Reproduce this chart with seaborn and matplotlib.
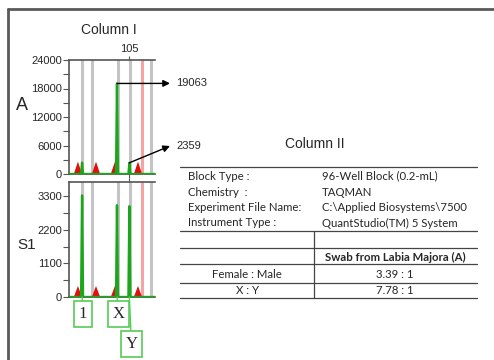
import matplotlib
matplotlib.use("Agg")
import matplotlib.pyplot as plt
import seaborn as sns
import pandas as pd
from matplotlib.lines import Line2D

sns.set_theme(style="white")
plt.rcParams['font.family'] = ['Liberation Sans', 'DejaVu Sans']

# ---------------- data ----------------
panels = ["A", "S1"]
ylims = {"A": 24000, "S1": 3760}
yticks = {"A": [0, 6000, 12000, 18000, 24000], "S1": [0, 1100, 2200, 3300]}
yminor = {"A": [3000, 9000, 15000, 21000], "S1": [550, 1650, 2750, 3850]}

bin_lines = [77.6, 83.4, 98.5, 105.3, 117.7]     # grey bins (bp)
pink_line = 112.4
size_std_pos = [75.2, 85.7, 96.7, 110.1]          # red triangles (bp)
size_std_height = {"A": 2600, "S1": 360}

peak_names = ["1", "X", "Y"]
peak_pos = [77.6, 97.9, 105.1]
peak_heights = {"A": [2400, 19063, 2359], "S1": [3320, 3000, 2970]}

x_tick = [105]
x_range = (70, 120)

table_left = ["Block Type :", "Chemistry  :", "Experiment File Name:", "Instrument Type :"]
table_right = ["96-Well Block (0.2-mL)", "TAQMAN", "C:\\Applied Biosystems\\7500",
               "QuantStudio(TM) 5 System"]
ratio_header = "Swab from Labia Majora (A)"
ratio_labels = ["Female : Male", "X : Y"]
ratio_values = ["3.39 : 1", "7.78 : 1"]

# ---------------- figure ----------------
W, H = 494, 360
fig = plt.figure(figsize=(W / 100, H / 100), dpi=100)
fig.patch.set_facecolor("white")


def fx(px):
    return px / W


def fy(py):
    return 1 - py / H


# outer frame
fig.add_artist(Line2D([fx(8), fx(8)], [fy(9), fy(362)], color="#5a5a5a", lw=2))
fig.add_artist(Line2D([fx(8), fx(496)], [fy(9), fy(9)], color="#5a5a5a", lw=2))

axes_px = {"A": (69, 60, 155, 174), "S1": (69, 182, 155, 297)}
green = "#1aa81a"
axes = {}
for name in panels:
    x0, y0, x1, y1 = axes_px[name]
    ax = fig.add_axes([fx(x0), fy(y1), fx(x1 - x0), (y1 - y0) / H])
    axes[name] = ax
    ax.set_facecolor("white")
    for b in bin_lines:
        ax.axvline(b, color="#c4c4c4", lw=2.2, zorder=1)
    ax.axvline(pink_line, color="#f5a3a3", lw=2.2, zorder=1)
    # red size-standard triangles
    hs = size_std_height[name]
    for p in size_std_pos:
        ax.fill([p - 2.4, p, p + 2.4], [0, hs, 0], color="#e01010", zorder=2, lw=0)
    # green trace
    xs, ys = [x_range[0]], [0]
    for p, h in zip(peak_pos, peak_heights[name]):
        xs += [p - 0.55, p, p + 0.55]
        ys += [0, h, 0]
    xs.append(x_range[1])
    ys.append(0)
    df = pd.DataFrame({"bp": xs, "rfu": ys})
    sns.lineplot(data=df, x="bp", y="rfu", ax=ax, color=green, lw=1.7, sort=False,
                 estimator=None, zorder=3)
    ax.set_xlim(*x_range)
    ax.set_ylim(0, ylims[name])
    ax.set_xlabel("")
    ax.set_ylabel("")
    ax.set_yticks(yticks[name])
    ax.set_yticks([v for v in yminor[name] if v < ylims[name]], minor=True)
    ax.set_yticklabels([str(v) for v in yticks[name]], fontsize=8)
    ax.tick_params(axis="y", which="both", left=True, length=4, width=0.8,
                   color="#555555", pad=1)
    ax.set_xticks(x_tick)
    for s in ["left", "top", "bottom"]:
        ax.spines[s].set_color("#555555")
        ax.spines[s].set_linewidth(1.2)
    ax.spines["right"].set_visible(False)
    ax.spines["bottom"].set_color("#2a6a2a")

axA, axS = axes["A"], axes["S1"]
axA.tick_params(axis="x", top=True, bottom=True, labeltop=True, labelbottom=False,
                length=3, width=0.8, color="#555555", labelsize=8, pad=1)
axS.tick_params(axis="x", top=True, bottom=False, labeltop=False, labelbottom=False,
                length=3, width=0.8, color="#555555")

# panel labels / titles
fig.text(fx(22), fy(105), "A", fontsize=13, ha="center", va="center")
fig.text(fx(27), fy(245), "S1", fontsize=11, ha="center", va="center")
fig.text(fx(109), fy(30), "Column I", fontsize=10, ha="center", va="center")
fig.text(fx(315), fy(144), "Column II", fontsize=10, ha="center", va="center")

# arrows with peak heights
arrow_tips = [(170, 83.4), (170, 146)]
for idx, tip in zip([1, 2], arrow_tips):
    h = peak_heights["A"][idx]
    axA.annotate("", xy=(fx(tip[0]), fy(tip[1])), xycoords="figure fraction",
                 xytext=(peak_pos[idx], h), textcoords="data",
                 arrowprops=dict(arrowstyle="-|>", color="black", lw=1.0,
                                 shrinkA=0, shrinkB=0, mutation_scale=10),
                 annotation_clip=False)
    fig.text(fx(176), fy(tip[1]), str(h), fontsize=8, ha="left", va="center")

# allele boxes under S1
box_centers = [(83, 314), (118.5, 314), (131.5, 344)]
for name, p, c in zip(peak_names, peak_pos, box_centers):
    axS.annotate(name, xy=(p, 0), xycoords="data",
                 xytext=(fx(c[0]), fy(c[1])), textcoords="figure fraction",
                 ha="center", va="center", fontsize=12, family="Liberation Serif",
                 bbox=dict(boxstyle="square,pad=0.28", fc="white", ec="#55cc55", lw=1.2),
                 arrowprops=dict(arrowstyle="-", color="#55cc55", lw=1.0,
                                 shrinkA=0, shrinkB=0),
                 annotation_clip=False)

# ---------------- table (Column II) ----------------
tfont = "Lato"
tl, tr, tsep = 180, 477, 314
for yy in [167, 231, 248, 264, 283, 298]:
    fig.add_artist(Line2D([fx(tl), fx(tr)], [fy(yy), fy(yy)], color="#444444", lw=0.9))
fig.add_artist(Line2D([fx(tsep), fx(tsep)], [fy(231), fy(298)], color="#444444", lw=0.9))
row_y = [176, 192, 208, 223]
for yy, l, r in zip(row_y, table_left, table_right):
    fig.text(fx(188), fy(yy), l, fontsize=8.2, family=tfont, ha="left", va="center")
    fig.text(fx(322), fy(yy), r, fontsize=8.2, family=tfont, ha="left", va="center")
fig.text(fx(395), fy(257), ratio_header, fontsize=8.2, family=tfont, weight="bold",
         ha="center", va="center")
for yy, l, v in zip([274, 291], ratio_labels, ratio_values):
    fig.text(fx(247), fy(yy), l, fontsize=8.2, family=tfont, ha="center", va="center")
    fig.text(fx(395), fy(yy), v, fontsize=8.2, family=tfont, ha="center", va="center")

fig.savefig("out.png", dpi=100)
